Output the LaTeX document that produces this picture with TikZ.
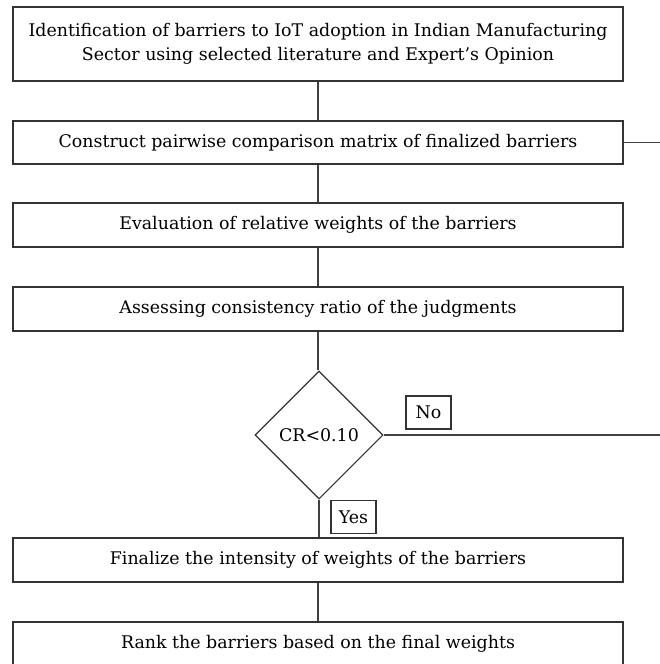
\documentclass[tikz,border=0pt]{standalone}
\usepackage{fontspec}
\setmainfont{DejaVu Serif}
\usetikzlibrary{shapes.geometric}
\tikzset{
  txt/.style={font=\fontsize{17.4}{24}\selectfont},
  stepbox/.style={txt, draw=black!80, line width=1.1pt, minimum width=610pt, inner sep=0pt,
    align=center},
  decision/.style={txt, draw=black!80, line width=1.1pt, diamond, aspect=1, minimum width=128pt,
    minimum height=128pt, inner sep=0pt},
  tag/.style={txt, draw=black!80, line width=1.1pt, minimum width=45pt, minimum height=33pt,
    inner sep=0pt},
  link/.style={draw=black!75, line width=1.1pt}
}
\begin{document}
\begin{tikzpicture}[x=1pt, y=-1pt]
  \useasboundingbox (0,0) rectangle (660,664);
  \clip (0,0) rectangle (660,664);
  \node[stepbox, minimum height=74pt] (b1) at (318,44)
    {Identification of barriers to IoT adoption in Indian Manufacturing\\Sector using selected literature and Expert's Opinion};
  \node[stepbox, minimum height=43pt] (b2) at (318,142.5)
    {Construct pairwise comparison matrix of finalized barriers};
  \node[stepbox, minimum height=44pt] (b3) at (318,225)
    {Evaluation of relative weights of the barriers};
  \node[stepbox, minimum height=44pt] (b4) at (318,309)
    {Assessing consistency ratio of the judgments};
  \node[decision] (cr) at (319,435) {CR<0.10};
  \node[tag] (no) at (428.5,412.5) {No};
  \node[tag] (yes) at (353.5,517) {Yes};
  \node[stepbox, minimum height=44pt] (b5) at (318,560)
    {Finalize the intensity of weights of the barriers};
  \node[stepbox, minimum height=44pt] (b6) at (318,644)
    {Rank the barriers based on the final weights};
  \coordinate (loopA) at (660,142.5);
  \coordinate (loopB) at (660,435);
  \path[link] (b1) -- (b2);
  \path[link] (b2) -- (b3);
  \path[link] (b3) -- (b4);
  \path[link] (b4.south) -- (b4.south |- cr.north);
  \path[link] (cr.south) -- (cr.south |- b5.north);
  \path[link] (b5) -- (b6);
  \path[link] (b2.east) -- (loopA);
  \path[link] (cr.east) -- (loopB);
\end{tikzpicture}
\end{document}
